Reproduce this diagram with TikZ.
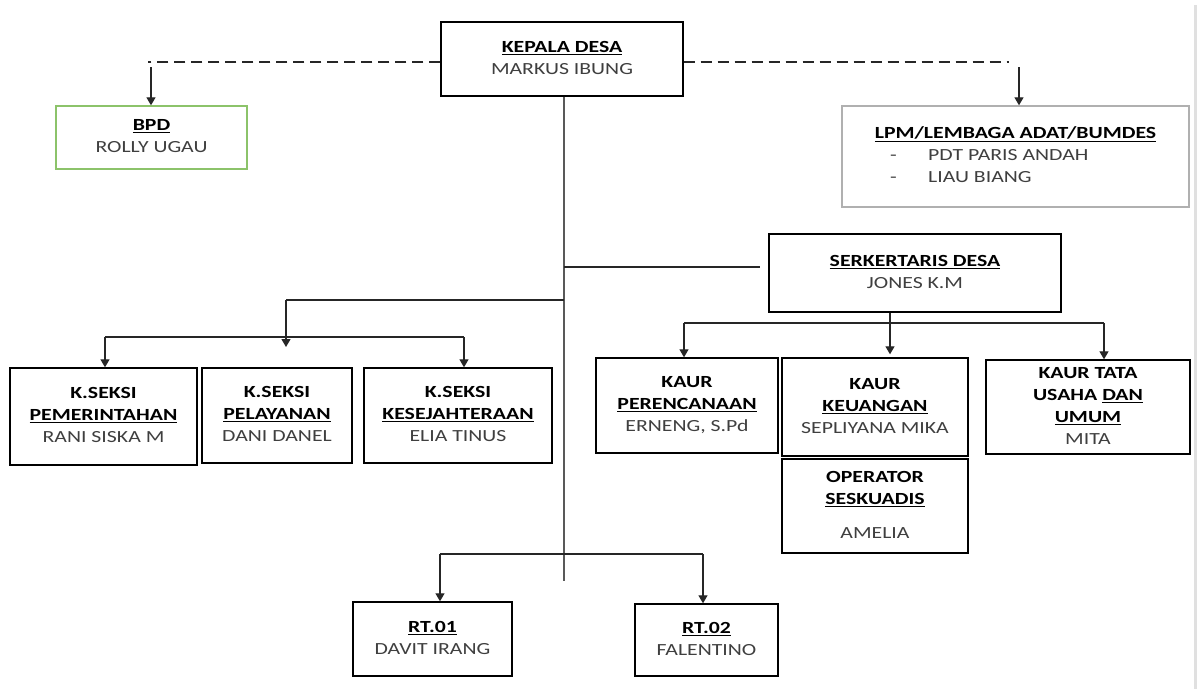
\documentclass[tikz,border=0pt]{standalone}
\usepackage{fontspec}
\setmainfont{Carlito}
\usepackage{graphicx}
\usetikzlibrary{arrows.meta}
\definecolor{namegray}{HTML}{3F3F3F}
\definecolor{bpdgreen}{HTML}{8CC36A}
\definecolor{lpmgray}{HTML}{B0B0B0}
\newcommand{\bxt}[1]{\scalebox{1.28}[1]{\begin{tabular}{@{}c@{}}#1\end{tabular}}}
\newcommand{\ttl}[1]{\textbf{\underline{#1}}}
\newcommand{\nm}[1]{\textcolor{namegray}{#1}}
\begin{document}
\begin{tikzpicture}[x=1pt,y=-1pt,
  font=\fontsize{17}{22}\selectfont,
  box/.style={draw=black, line width=1.4pt, inner sep=0pt, fill=white},
  conn/.style={line width=1.3pt, draw=black!85},
  arr/.style={conn, -{Triangle[width=9pt,length=8pt]}},
  dsh/.style={conn, dash pattern=on 11pt off 6pt},
  trunk/.style={line width=1.6pt, draw=black!65}]
\fill[white] (0,0) rectangle (1200,689);
\useasboundingbox (0,0) rectangle (1200,689);
% page edge
\draw[line width=3pt, black!12] (1195,5) -- (1195,689);

% boxes
\node[box, minimum width=242pt, minimum height=74pt] (kepala) at (562,59)
  {\bxt{\ttl{KEPALA DESA}\\ \nm{MARKUS IBUNG}}};
\node[box, draw=bpdgreen, minimum width=191pt, minimum height=63pt] (bpd) at (151.5,137.5)
  {\raisebox{4pt}{\bxt{\ttl{BPD}\\ \nm{ROLLY UGAU}}}};
\node[box, draw=lpmgray, minimum width=347pt, minimum height=101pt] (lpm) at (1015.5,156.5)
  {\raisebox{11pt}{\scalebox{1.28}[1]{\begin{tabular}{@{}l@{}}\ttl{LPM/LEMBAGA ADAT/BUMDES}\\
   \hspace{12pt}\nm{-}\hspace{24.5pt}\nm{PDT PARIS ANDAH}\\
   \hspace{12pt}\nm{-}\hspace{24.5pt}\nm{LIAU BIANG}\end{tabular}}}};
\node[box, minimum width=292pt, minimum height=78pt] (serk) at (915,273)
  {\bxt{\ttl{SERKERTARIS DESA}\\ \nm{JONES K.M}}};

\node[box, minimum width=187pt, minimum height=97pt] (ks1) at (103.5,416.5)
  {\bxt{\textbf{K.SEKSI}\\ \ttl{PEMERINTAHAN}\\ \nm{RANI SISKA M}}};
\node[box, minimum width=150pt, minimum height=95pt] (ks2) at (277,415.5)
  {\bxt{\textbf{K.SEKSI}\\ \ttl{PELAYANAN}\\ \nm{DANI DANEL}}};
\node[box, minimum width=188pt, minimum height=95pt] (ks3) at (458,415.5)
  {\bxt{\textbf{K.SEKSI}\\ \ttl{KESEJAHTERAAN}\\ \nm{ELIA TINUS}}};

\node[box, minimum width=182pt, minimum height=95pt] (kp) at (687,405.5)
  {\bxt{\textbf{KAUR}\\ \ttl{PERENCANAAN}\\ \nm{ERNENG, S.Pd}}};
\node[box, minimum width=186pt, minimum height=98pt] (kk) at (875,407)
  {\bxt{\textbf{KAUR}\\ \ttl{KEUANGAN}\\ \nm{SEPLIYANA MIKA}}};
\node[box, minimum width=204pt, minimum height=94pt] (kt) at (1088,407)
  {\raisebox{-3pt}{\bxt{\textbf{KAUR TATA}\\ \textbf{USAHA \underline{DAN}}\\ \ttl{UMUM}\\ \nm{MITA}}}};
\node[box, minimum width=186pt, minimum height=94pt] (op) at (875,506)
  {\bxt{\textbf{OPERATOR}\\ \ttl{SESKUADIS}\\[12pt] \nm{AMELIA}}};

\node[box, minimum width=159pt, minimum height=74pt] (rt1) at (432.5,639)
  {\bxt{\ttl{RT.01}\\ \nm{DAVIT IRANG}}};
\node[box, minimum width=143pt, minimum height=72pt] (rt2) at (706.5,640)
  {\bxt{\ttl{RT.02}\\ \nm{FALENTINO}}};

% free-end coordinates
\coordinate (dl) at (148,62);
\coordinate (dr) at (1009,62);
\coordinate (al) at (151,67);
\coordinate (ar) at (1019,67);
\coordinate (tend) at (564,581);
\coordinate (tserk) at (564,267);
\coordinate (serkend) at (760,267);
\coordinate (tks) at (564,300);
\coordinate (ksc) at (286,300);
\coordinate (kstip) at (286,347);
\coordinate (ksl) at (105,337);
\coordinate (ksr) at (464,337);
\coordinate (sk) at (890,312);
\coordinate (skl) at (684,323);
\coordinate (skr) at (1104,323);
\coordinate (trt) at (564,554);
\coordinate (rtl) at (440,554);
\coordinate (rtr) at (703,554);

% connectors
\draw[trunk] ([xshift=2pt]kepala.south) -- (tend);
\draw[dsh] ([yshift=-3pt]kepala.west) -- (dl);
\draw[dsh] ([yshift=-3pt]kepala.east) -- (dr);
\draw[arr] (al) -- (al |- bpd.north);
\draw[arr] (ar) -- (ar |- lpm.north);
\draw[conn] (tserk) -- (serkend);
\draw[conn] (tks) -- (ksc);
\draw[arr] (ksc) -- (kstip);
\draw[conn] (ksl) -- (ksr);
\draw[arr] (ksl) -- (ksl |- ks1.north);
\draw[arr] (ksr) -- (ksr |- ks3.north);
\draw[arr] (sk |- serk.south) -- ([yshift=3pt]sk |- kk.north);
\draw[conn] (skl) -- (skr);
\draw[arr] (skl) -- (skl |- kp.north);
\draw[arr] (skr) -- (skr |- kt.north);
\draw[conn] (rtl) -- (rtr);
\draw[arr] (rtl) -- (rtl |- rt1.north);
\draw[arr] (rtr) -- (rtr |- rt2.north);
\end{tikzpicture}
\end{document}
